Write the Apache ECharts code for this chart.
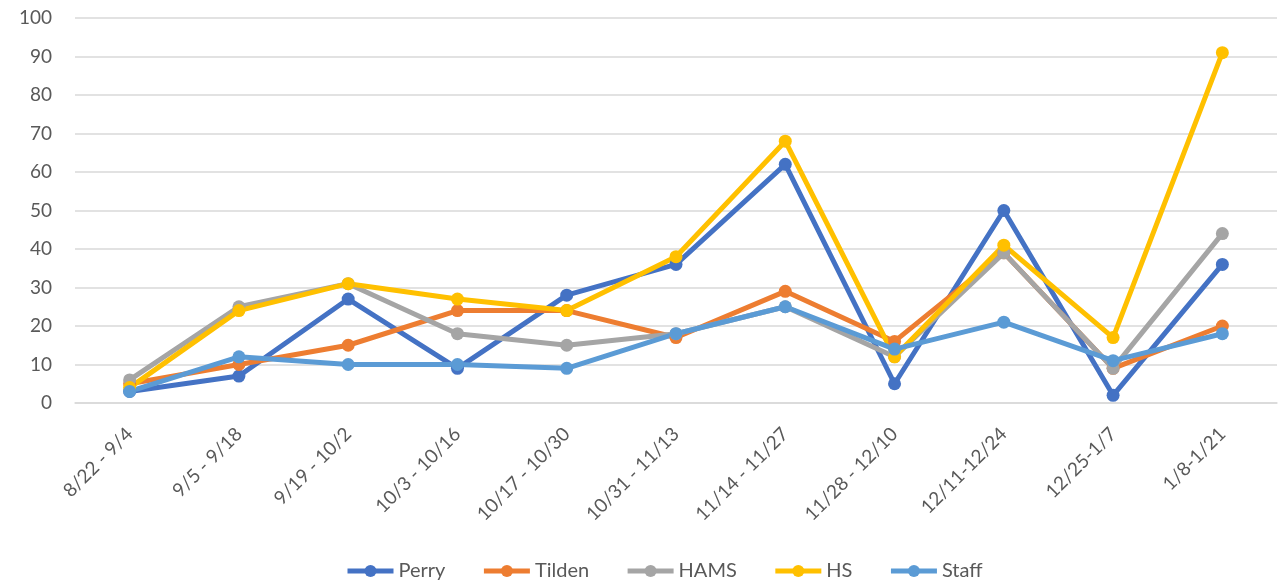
<!DOCTYPE html>
<html>
<head>
<meta charset="utf-8">
<style>
  html, body { margin: 0; padding: 0; background: #fff; }
  #main { width: 1286px; height: 586px; }
</style>
<script src="https://cdn.jsdelivr.net/npm/echarts@6/dist/echarts.min.js"></script>
</head>
<body>
<div id="main"></div>
<script>
// periods on the x axis
var periods = ['8/22 - 9/4', '9/5 - 9/18', '9/19 - 10/2', '10/3 - 10/16', '10/17 - 10/30',
    '10/31 - 11/13', '11/14 - 11/27', '11/28 - 12/10', '12/11-12/24', '12/25-1/7', '1/8-1/21'];

var perry  = [3, 7, 27, 9, 28, 36, 62, 5, 50, 2, 36];
var tilden = [5, 10, 15, 24, 24, 17, 29, 16, 39, 9, 20];
var hams   = [6, 25, 31, 18, 15, 18, 25, 12, 39, 9, 44];
var hs     = [4, 24, 31, 27, 24, 38, 68, 12, 41, 17, 91];
var staff  = [3, 12, 10, 10, 9, 18, 25, 14, 21, 11, 18];

var names = ['Perry', 'Tilden', 'HAMS', 'HS', 'Staff'];
var colors = ['#4472C4', '#ED7D31', '#A5A5A5', '#FFC000', '#5B9BD5'];
var values = [perry, tilden, hams, hs, staff];
var font = 'Lato, "Open Sans", sans-serif';

function makeSeries(i) {
    return {
        name: names[i],
        type: 'line',
        data: values[i],
        symbol: 'circle',
        symbolSize: 13,
        itemStyle: { color: colors[i] },
        lineStyle: { width: 5, color: colors[i] }
    };
}

var myChart = echarts.init(document.getElementById('main'));
var option = {
    animation: false,
    grid: { left: 75, right: 9, top: 18, bottom: 183 },
    legend: {
        left: 340,
        bottom: 0,
        itemWidth: 46,
        itemHeight: 15,
        itemGap: 36,
        lineStyle: { width: 5 },
        textStyle: { fontSize: 20, color: '#595959', fontFamily: font },
        data: names
    },
    xAxis: {
        type: 'category',
        data: periods,
        boundaryGap: true,
        axisLine: { lineStyle: { color: '#d9d9d9', width: 1.5 } },
        axisTick: { show: false },
        axisLabel: {
            rotate: 45,
            interval: 0,
            fontSize: 19,
            color: '#595959',
            fontFamily: font,
            margin: 28
        }
    },
    yAxis: {
        type: 'value',
        min: 0,
        max: 100,
        interval: 10,
        axisLine: { show: false },
        axisTick: { show: false },
        splitLine: { lineStyle: { color: '#d9d9d9', width: 1.5 } },
        axisLabel: { fontSize: 19, color: '#595959', fontFamily: font, margin: 23 }
    },
    series: [0, 1, 2, 3, 4].map(makeSeries)
};
myChart.setOption(option);
</script>
</body>
</html>
